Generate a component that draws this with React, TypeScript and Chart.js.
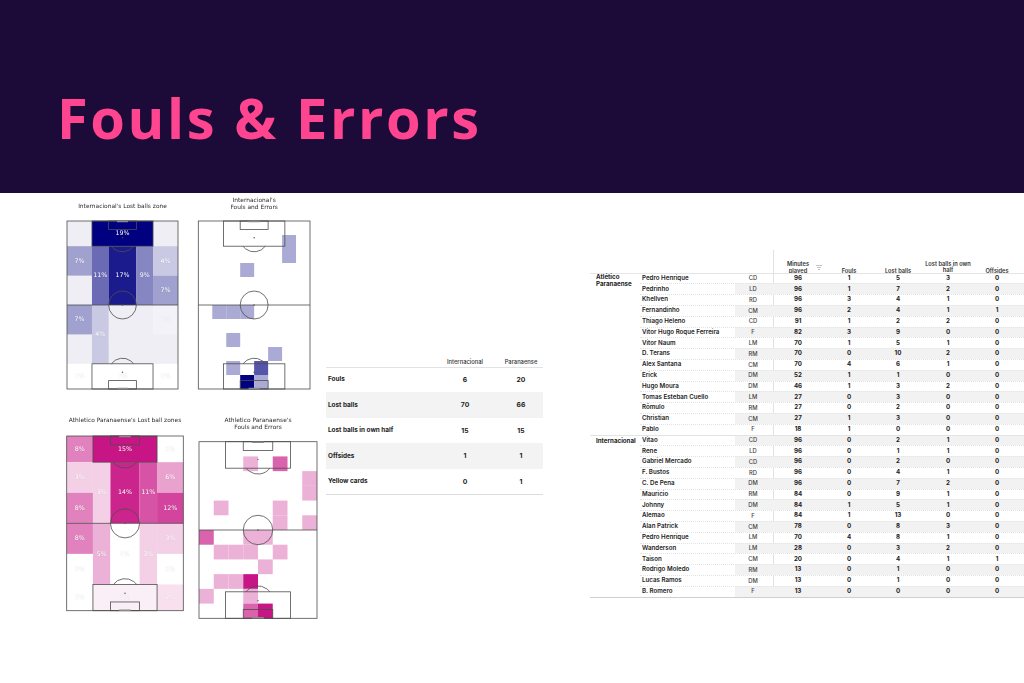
import React, { useEffect, useRef } from "react";
import { Chart, registerables } from "chart.js";
Chart.register(...registerables);

// ---------------- data ----------------
const pageTitle = "Fouls & Errors";

// Lost-ball zones, in pitch units (x across 0–80, y along 0–120, own goal at 120)
const zoneX0 = [0, 18, 62, 0, 0, 18, 30, 50, 62, 62, 0, 0, 18, 30, 50, 62, 62, 0, 18, 62];
const zoneX1 = [18, 62, 80, 18, 18, 30, 50, 62, 80, 80, 18, 18, 30, 50, 62, 80, 80, 18, 62, 80];
const zoneY0 = [0, 0, 0, 18, 39, 18, 18, 18, 18, 39, 60, 81, 60, 60, 60, 60, 81, 102, 102, 102];
const zoneY1 = [18, 18, 18, 39, 60, 60, 60, 60, 39, 60, 81, 102, 102, 102, 102, 81, 102, 120, 120, 120];
const interLostPct: (number | null)[] = [null, 19, null, 7, null, 11, 17, 9, 4, 7, 7, null, 4, null, null, 1, null, 0, 0, 0];
const paraLostPct: (number | null)[] = [8, 15, 0, 3, 8, 3, 14, 11, 6, 12, 8, 0, 5, 0, 3, 3, 0, 0, 1, 2];

// Fouls & errors grid (8 columns x 12 rows of 10 units)
const interFoulCol = [6, 6, 3, 1, 2, 3, 2, 5, 2, 4, 3, 4];
const interFoulRow = [1, 2, 3, 6, 6, 6, 8, 9, 10, 10, 11, 11];
const interFoulCount = [1, 1, 1, 1, 1, 1, 1, 1, 1, 2, 3, 1];
const paraFoulCol = [3, 5, 7, 7, 1, 5, 5, 7, 0, 3, 4, 1, 2, 3, 5, 4, 1, 2, 3, 0, 3, 3, 4];
const paraFoulRow = [1, 1, 2, 3, 4, 4, 5, 5, 6, 6, 6, 7, 7, 7, 7, 8, 9, 9, 9, 10, 10, 11, 11];
const paraFoulCount = [1, 2, 1, 1, 1, 1, 1, 1, 2, 1, 1, 1, 1, 1, 1, 1, 1, 1, 3, 1, 1, 2, 3];

// Summary table
const summaryTeams = ["Internacional", "Paranaense"];
const summaryMetrics = ["Fouls", "Lost balls", "Lost balls in own half", "Offsides", "Yellow cards"];
const summaryInter = [6, 70, 15, 1, 0];
const summaryPara = [20, 66, 15, 1, 1];

// Player table
const playerColumns = ["Minutes\nplayed", "Fouls", "Lost balls", "Lost balls in own\nhalf", "Offsides"];
const paraTeam = "Atlético\nParanaense";
const paraPlayers = ["Pedro Henrique", "Pedrinho", "Khellven", "Fernandinho", "Thiago Heleno", "Vitor Hugo Roque Ferreira", "Vitor Naum", "D. Terans", "Alex Santana", "Erick", "Hugo Moura", "Tomas Esteban Cuello", "Rômulo", "Christian", "Pablo"];
const paraPos = ["CD", "LD", "RD", "CM", "CD", "F", "LM", "RM", "CM", "DM", "DM", "LM", "RM", "CM", "F"];
const paraMinutes = [96, 96, 96, 96, 91, 82, 70, 70, 70, 52, 46, 27, 27, 27, 18];
const paraFouls = [1, 1, 3, 2, 1, 3, 1, 0, 4, 1, 1, 0, 0, 1, 1];
const paraLost = [5, 7, 4, 4, 2, 9, 5, 10, 6, 1, 3, 3, 2, 3, 0];
const paraLostOwn = [3, 2, 1, 1, 2, 0, 1, 2, 1, 0, 2, 0, 0, 0, 0];
const paraOffsides = [0, 0, 0, 1, 0, 0, 0, 0, 0, 0, 0, 0, 0, 0, 0];
const interTeam = "Internacional";
const interPlayers = ["Vitao", "Rene", "Gabriel Mercado", "F. Bustos", "C. De Pena", "Mauricio", "Johnny", "Alemao", "Alan Patrick", "Pedro Henrique", "Wanderson", "Taison", "Rodrigo Moledo", "Lucas Ramos", "B. Romero"];
const interPos = ["CD", "LD", "CD", "RD", "DM", "RM", "DM", "F", "CM", "LM", "LM", "CM", "RM", "DM", "F"];
const interMinutes = [96, 96, 96, 96, 96, 84, 84, 84, 78, 70, 28, 20, 13, 13, 13];
const interFouls = [0, 0, 0, 0, 0, 0, 1, 1, 0, 4, 0, 0, 0, 0, 0];
const interLost = [2, 1, 2, 4, 7, 9, 5, 13, 8, 8, 3, 4, 1, 1, 0];
const interLostOwn = [1, 1, 0, 1, 2, 1, 1, 0, 3, 1, 2, 1, 0, 0, 0];
const interOffsides = [0, 0, 0, 0, 0, 0, 0, 0, 0, 0, 0, 1, 0, 0, 0];

// ---------------- pitch chart ----------------
type Cell = { x0: number; x1: number; y0: number; y1: number; v: number | null };
type PitchCfg = {
  titles: string[];
  titleYs: number[];
  bg: string;
  cells: Cell[];
  rgb: [number, number, number];
  max: number;
  labels: boolean;
};

function zoneCells(values: (number | null)[]): Cell[] {
  return values.map((v, i) => ({ x0: zoneX0[i], x1: zoneX1[i], y0: zoneY0[i], y1: zoneY1[i], v }));
}
function gridCells(cols: number[], rows: number[], counts: number[]): Cell[] {
  return cols.map((c, i) => ({ x0: c * 10, x1: c * 10 + 10, y0: rows[i] * 10, y1: rows[i] * 10 + 10, v: counts[i] }));
}

function makePitchPlugin(cfg: PitchCfg) {
  const color = (v: number) => {
    const t = Math.max(0, Math.min(1, v / cfg.max));
    const r = Math.round(255 + (cfg.rgb[0] - 255) * t);
    const g = Math.round(255 + (cfg.rgb[1] - 255) * t);
    const b = Math.round(255 + (cfg.rgb[2] - 255) * t);
    return `rgb(${r},${g},${b})`;
  };
  return {
    id: "pitch",
    beforeDatasetsDraw(chart: any) {
      const ctx: CanvasRenderingContext2D = chart.ctx;
      const xs = chart.scales.x;
      const ys = chart.scales.y;
      const px = (v: number) => xs.getPixelForValue(v);
      const py = (v: number) => ys.getPixelForValue(v);
      ctx.save();
      ctx.fillStyle = cfg.bg;
      ctx.fillRect(px(0), py(0), px(80) - px(0), py(120) - py(0));
      cfg.cells.forEach((c) => {
        if (c.v === null) return;
        ctx.fillStyle = color(c.v);
        ctx.fillRect(px(c.x0), py(c.y0), px(c.x1) - px(c.x0), py(c.y1) - py(c.y0));
      });
      ctx.strokeStyle = "#4d4d4d";
      ctx.lineWidth = 0.8;
      const rect = (x0: number, y0: number, x1: number, y1: number) => {
        ctx.strokeRect(px(x0), py(y0), px(x1) - px(x0), py(y1) - py(y0));
      };
      rect(0, 0, 80, 120);
      ctx.beginPath();
      ctx.moveTo(px(0), py(60));
      ctx.lineTo(px(80), py(60));
      ctx.stroke();
      rect(18, 0, 62, 18);
      rect(30, 0, 50, 6);
      rect(18, 102, 62, 120);
      rect(30, 114, 50, 120);
      const rx = px(50) - px(40);
      const ry = py(70) - py(60);
      ctx.beginPath();
      ctx.ellipse(px(40), py(60), rx, ry, 0, 0, Math.PI * 2);
      ctx.stroke();
      const a = Math.asin(0.6);
      ctx.beginPath();
      ctx.ellipse(px(40), py(12), rx, ry, 0, a, Math.PI - a);
      ctx.stroke();
      ctx.beginPath();
      ctx.ellipse(px(40), py(108), rx, ry, 0, Math.PI + a, 2 * Math.PI - a);
      ctx.stroke();
      ctx.fillStyle = "#4d4d4d";
      [12, 60, 108].forEach((yy) => {
        ctx.beginPath();
        ctx.arc(px(40), py(yy), 0.7, 0, Math.PI * 2);
        ctx.fill();
      });
      ctx.strokeStyle = "#8a8a8a";
      ctx.lineWidth = 1.6;
      ctx.beginPath();
      ctx.moveTo(px(36), py(0) + 0.5);
      ctx.lineTo(px(44), py(0) + 0.5);
      ctx.moveTo(px(36), py(120) - 0.5);
      ctx.lineTo(px(44), py(120) - 0.5);
      ctx.stroke();
      if (cfg.labels) {
        ctx.font = '6.3px "DejaVu Sans"';
        ctx.textAlign = "center";
        ctx.textBaseline = "middle";
        cfg.cells.forEach((c) => {
          if (c.v === null) return;
          const cx = px((c.x0 + c.x1) / 2);
          const cy = py((c.y0 + c.y1) / 2);
          ctx.lineWidth = 0.6;
          ctx.strokeStyle = "rgba(0,0,0,0.07)";
          ctx.strokeText(`${c.v}%`, cx, cy);
          ctx.fillStyle = "#ffffff";
          ctx.fillText(`${c.v}%`, cx, cy);
        });
      }
      ctx.restore();
    },
    afterDraw(chart: any) {
      const ctx: CanvasRenderingContext2D = chart.ctx;
      const area = chart.chartArea;
      ctx.save();
      ctx.font = '5.9px "DejaVu Sans"';
      ctx.fillStyle = "#2b2b2b";
      ctx.textAlign = "center";
      ctx.textBaseline = "middle";
      cfg.titles.forEach((t, i) => ctx.fillText(t, (area.left + area.right) / 2, cfg.titleYs[i]));
      ctx.restore();
    },
  };
}

function PitchChart(props: {
  left: number;
  top: number;
  width: number;
  height: number;
  padding: { left: number; top: number; right: number; bottom: number };
  cfg: PitchCfg;
}) {
  const ref = useRef<HTMLCanvasElement>(null);
  useEffect(() => {
    const chart = new Chart(ref.current as HTMLCanvasElement, {
      type: "scatter",
      data: { datasets: [{ data: [], pointRadius: 0 }] },
      options: {
        responsive: false,
        maintainAspectRatio: false,
        animation: false,
        events: [],
        layout: { padding: props.padding },
        scales: {
          x: { type: "linear", min: 0, max: 80, display: false },
          y: { type: "linear", min: 0, max: 120, reverse: true, display: false },
        },
        plugins: { legend: { display: false }, tooltip: { enabled: false } },
      } as any,
      plugins: [makePitchPlugin(props.cfg) as any],
    });
    return () => chart.destroy();
  }, []);
  return (
    <canvas
      ref={ref}
      width={props.width}
      height={props.height}
      style={{ position: "absolute", left: props.left, top: props.top, width: props.width, height: props.height }}
    />
  );
}

// ---------------- text helpers ----------------
function Txt(p: {
  x: number;
  y: number;
  text: string | number;
  size?: number;
  weight?: number;
  color?: string;
  align?: "left" | "center";
}) {
  const size = p.size ?? 6.2;
  const h = size * 2;
  const style: React.CSSProperties = {
    position: "absolute",
    top: p.y - h / 2,
    height: h,
    lineHeight: `${h}px`,
    fontSize: size,
    fontWeight: p.weight ?? 600,
    color: p.color ?? "#222",
    fontFamily: "Inter, 'Noto Sans', sans-serif",
    whiteSpace: "nowrap",
  };
  if (p.align === "center") {
    style.left = p.x - 100;
    style.width = 200;
    style.textAlign = "center";
  } else {
    style.left = p.x;
  }
  return <div style={style}>{p.text}</div>;
}

function HLine(p: { x0: number; x1: number; y: number; color: string; dashed?: boolean }) {
  return (
    <div
      style={{
        position: "absolute",
        left: p.x0,
        top: p.y,
        width: p.x1 - p.x0,
        height: 0,
        borderTop: `1px ${p.dashed ? "dotted" : "solid"} ${p.color}`,
      }}
    />
  );
}

function SummaryTable() {
  const colX = [465, 521];
  const top = 367;
  const rh = 25.4;
  return (
    <>
      {summaryTeams.map((t, i) => (
        <Txt key={t} x={colX[i]} y={362} text={t} size={5.8} weight={500} color="#333" align="center" />
      ))}
      <HLine x0={326} x1={543} y={367} color="#e2e2e2" />
      {summaryMetrics.map((m, i) => (
        <React.Fragment key={m}>
          {i % 2 === 1 && (
            <div style={{ position: "absolute", left: 326, top: top + i * rh, width: 217, height: rh, background: "#f3f3f3" }} />
          )}
          <Txt x={328} y={top + i * rh + rh / 2} text={m} size={6.4} weight={700} color="#222" />
          <Txt x={colX[0]} y={top + i * rh + rh / 2} text={summaryInter[i]} size={6.8} weight={700} align="center" />
          <Txt x={colX[1]} y={top + i * rh + rh / 2} text={summaryPara[i]} size={6.8} weight={700} align="center" />
        </React.Fragment>
      ))}
      <HLine x0={326} x1={543} y={494} color="#dcdcdc" />
    </>
  );
}

function PlayerTable() {
  const rows = [
    ...paraPlayers.map((n, i) => ({ n, pos: paraPos[i], vals: [paraMinutes[i], paraFouls[i], paraLost[i], paraLostOwn[i], paraOffsides[i]] })),
    ...interPlayers.map((n, i) => ({ n, pos: interPos[i], vals: [interMinutes[i], interFouls[i], interLost[i], interLostOwn[i], interOffsides[i]] })),
  ];
  const valX = [798, 849, 898, 948, 997];
  const y0 = 278;
  const rh = 10.8;
  const headerYs = [
    [264, 270.5],
    [270.5],
    [270.5],
    [263.5, 270],
    [270.5],
  ];
  return (
    <>
      <div style={{ position: "absolute", left: 773, top: 250, width: 0, height: 348, borderLeft: "1px solid #e2e2e2" }} />
      {playerColumns.map((c, i) =>
        c.split("\n").map((line, j) => (
          <Txt key={`${i}-${j}`} x={valX[i]} y={headerYs[i][j]} text={line} size={5.7} weight={600} color="#333" align="center" />
        ))
      )}
      {[6, 4, 2].map((w, k) => (
        <div key={k} style={{ position: "absolute", left: 816 + (6 - w) / 2, top: 265 + k * 2.2, width: w, height: 0.8, background: "#c4c4c4" }} />
      ))}
      <HLine x0={590} x1={1024} y={273} color="#e6e6e6" />
      {rows.map((r, i) => {
        const cy = y0 + i * rh;
        return (
          <React.Fragment key={i}>
            {i % 2 === 1 && (
              <div style={{ position: "absolute", left: 735, top: cy - rh / 2, width: 289, height: rh, background: "#f2f2f2" }} />
            )}
            <HLine x0={i === 15 ? 590 : 640} x1={1024} y={cy - rh / 2} color="#e3e3e3" dashed={i !== 15} />
            <Txt x={642} y={cy} text={r.n} size={6.2} weight={600} />
            <Txt x={753} y={cy} text={r.pos} size={5.8} weight={500} color="#444" align="center" />
            {r.vals.map((v, k) => (
              <Txt key={k} x={valX[k]} y={cy} text={v} size={6.2} weight={700} align="center" />
            ))}
          </React.Fragment>
        );
      })}
      {paraTeam.split("\n").map((l, j) => (
        <Txt key={l} x={596} y={277 + j * 7} text={l} size={6.2} weight={700} />
      ))}
      <Txt x={596} y={441} text={interTeam} size={6.2} weight={700} />
      <HLine x0={590} x1={1024} y={597} color="#cfcfcf" />
    </>
  );
}

export default function App() {
  const pitch1: PitchCfg = {
    titles: ["Internacional's Lost balls zone"],
    titleYs: [11.7],
    bg: "#eeeef4",
    cells: zoneCells(interLostPct),
    rgb: [0, 0, 128],
    max: 19,
    labels: true,
  };
  const pitch2: PitchCfg = {
    titles: ["Internacional's", "Fouls and Errors"],
    titleYs: [5, 12.3],
    bg: "#ffffff",
    cells: gridCells(interFoulCol, interFoulRow, interFoulCount),
    rgb: [0, 0, 128],
    max: 3,
    labels: false,
  };
  const pitch3: PitchCfg = {
    titles: ["Athletico Paranaense's Lost ball zones"],
    titleYs: [15.7],
    bg: "#ffffff",
    cells: zoneCells(paraLostPct),
    rgb: [199, 21, 133],
    max: 15,
    labels: true,
  };
  const pitch4: PitchCfg = {
    titles: ["Athletico Paranaense's", "Fouls and Errors"],
    titleYs: [15, 22.7],
    bg: "#ffffff",
    cells: gridCells(paraFoulCol, paraFoulRow, paraFoulCount),
    rgb: [199, 21, 133],
    max: 3,
    labels: false,
  };
  return (
    <div style={{ position: "fixed", left: 0, top: 0, width: 1024, height: 683, background: "#ffffff", overflow: "hidden" }}>
      <div style={{ position: "absolute", left: 0, top: 0, width: 1024, height: 193, background: "#1c0a38" }} />
      <div
        style={{
          position: "absolute",
          left: 57,
          top: 89,
          fontFamily: "'Open Sans', sans-serif",
          fontWeight: 700,
          fontSize: 56,
          lineHeight: "56px",
          letterSpacing: 2.6,
          color: "#ff4590",
          whiteSpace: "nowrap",
        }}
      >
        {pageTitle}
      </div>
      <PitchChart left={55} top={195} width={135} height={200} padding={{ left: 12, top: 26, right: 12, bottom: 6 }} cfg={pitch1} />
      <PitchChart left={190} top={195} width={125} height={200} padding={{ left: 8.3, top: 26, right: 5, bottom: 6 }} cfg={pitch2} />
      <PitchChart left={55} top={405} width={135} height={215} padding={{ left: 11.7, top: 31, right: 6.7, bottom: 9.3 }} cfg={pitch3} />
      <PitchChart left={190} top={405} width={130} height={218} padding={{ left: 9, top: 36.7, right: 3, bottom: 4.7 }} cfg={pitch4} />
      <SummaryTable />
      <PlayerTable />
    </div>
  );
}
